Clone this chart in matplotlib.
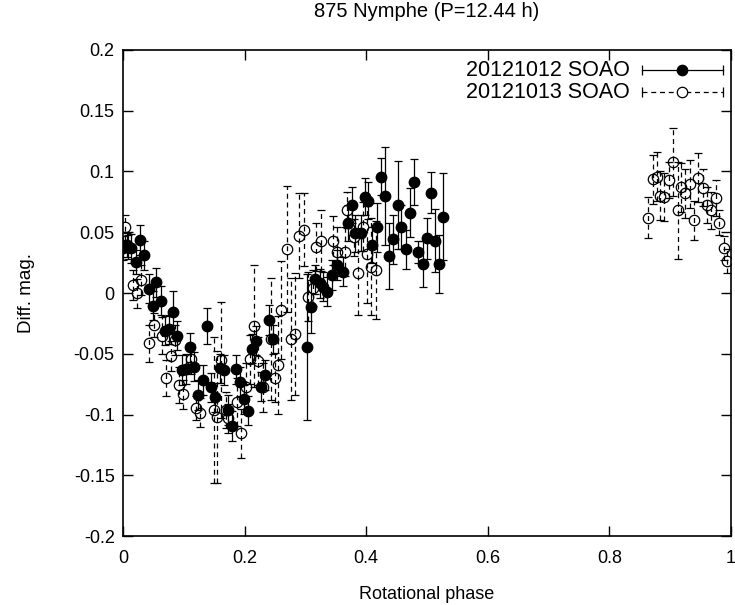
import matplotlib
matplotlib.use('Agg')
import matplotlib.pyplot as plt

plt.rcParams['font.family'] = ['Liberation Sans', 'DejaVu Sans']
plt.rcParams['axes.unicode_minus'] = False

# 20121012 SOAO (filled)
phase1 = [0.000, 0.006, 0.008, 0.014, 0.021, 0.028, 0.035, 0.042, 0.049, 0.055,
          0.0625, 0.069, 0.076, 0.083, 0.089, 0.0965, 0.104, 0.110, 0.117, 0.124,
          0.131, 0.139, 0.145, 0.151, 0.1595, 0.1666, 0.172, 0.179, 0.186, 0.192,
          0.1995, 0.206, 0.213, 0.219, 0.227, 0.2335, 0.240, 0.247, 0.302, 0.309,
          0.316, 0.324, 0.329, 0.335, 0.343, 0.3515, 0.362, 0.3705, 0.376, 0.3816,
          0.391, 0.398, 0.403, 0.409, 0.417, 0.424, 0.431, 0.438, 0.4446, 0.452,
          0.458, 0.4655, 0.472, 0.479, 0.4857, 0.493, 0.4995, 0.5066, 0.513, 0.520,
          0.527]
mag1 = [0.0368, 0.0395, 0.038, 0.0368, 0.0255, 0.0436, 0.031, 0.0035, -0.0103, 0.0088,
        -0.0063, -0.031, -0.030, -0.016, -0.035, -0.0634, -0.0626, -0.0447, -0.0607, -0.084,
        -0.0716, -0.027, -0.0776, -0.0858, -0.062, -0.0634, -0.0963, -0.1095, -0.0628, -0.073,
        -0.0875, -0.0969, -0.046, -0.0393, -0.077, -0.0675, -0.0222, -0.038, -0.0442, -0.0113,
        0.0113, 0.008, 0.0052, 0.001, 0.0148, 0.023, 0.0175, 0.0574, 0.0724, 0.049,
        0.0496, 0.0793, 0.076, 0.0395, 0.054, 0.0957, 0.0798, 0.0307, 0.0442, 0.0724,
        0.0546, 0.036, 0.066, 0.0916, 0.034, 0.0239, 0.045, 0.0826, 0.043, 0.0236,
        0.0628]
err1 = [0.010, 0.010, 0.010, 0.012, 0.010, 0.012, 0.012, 0.012, 0.012, 0.012,
        0.012, 0.012, 0.012, 0.018, 0.012, 0.012, 0.012, 0.012, 0.012, 0.012,
        0.012, 0.015, 0.012, 0.012, 0.012, 0.012, 0.012, 0.012, 0.012, 0.012,
        0.012, 0.012, 0.012, 0.012, 0.012, 0.012, 0.012, 0.012, 0.060, 0.022,
        0.012, 0.012, 0.012, 0.012, 0.012, 0.012, 0.012, 0.015, 0.015, 0.015,
        0.015, 0.015, 0.015, 0.015, 0.020, 0.015, 0.040, 0.027, 0.020, 0.036,
        0.018, 0.016, 0.020, 0.019, 0.009, 0.019, 0.017, 0.017, 0.026, 0.024,
        0.036]

# 20121013 SOAO (open)
phase2 = [0.003, 0.017, 0.0225, 0.030, 0.043, 0.0515, 0.0637, 0.070, 0.079, 0.0855,
          0.0926, 0.099, 0.112, 0.120, 0.1266, 0.150, 0.154, 0.161, 0.169, 0.173,
          0.188, 0.194, 0.202, 0.209, 0.216, 0.2225, 0.231, 0.2434, 0.250, 0.2554,
          0.260, 0.269, 0.276, 0.283, 0.290, 0.2977, 0.304, 0.312, 0.3174, 0.3257,
          0.345, 0.3515, 0.365, 0.368, 0.380, 0.387, 0.395, 0.402, 0.4074, 0.416,
          0.864, 0.871, 0.879, 0.884, 0.890, 0.8985, 0.905, 0.912, 0.918, 0.925,
          0.9326, 0.9396, 0.946, 0.9535, 0.961, 0.967, 0.975, 0.981, 0.9885, 0.994]
mag2 = [0.054, 0.0066, -0.0002, 0.0107, -0.0414, -0.0263, -0.035, -0.070, -0.0518, -0.0387,
        -0.0757, -0.0834, -0.0543, -0.0944, -0.0985, -0.096, -0.102, -0.055, -0.0963, -0.103,
        -0.0897, -0.1155, -0.0776, -0.0546, -0.027, -0.056, -0.0776, -0.038, -0.0697, -0.0593,
        -0.014, 0.0362, -0.038, -0.0337, 0.047, 0.052, -0.003, 0.004, 0.038, 0.043,
        0.043, 0.034, 0.034, 0.0683, 0.0458, 0.0167, 0.0546, 0.032, 0.0216, 0.019,
        0.062, 0.0936, 0.0957, 0.080, 0.079, 0.093, 0.1076, 0.068, 0.087, 0.082,
        0.0897, 0.060, 0.095, 0.0867, 0.0724, 0.068, 0.078, 0.058, 0.0368, 0.0263]
err2 = [0.010, 0.012, 0.012, 0.012, 0.015, 0.010, 0.015, 0.015, 0.012, 0.012,
        0.015, 0.012, 0.012, 0.010, 0.012, 0.060, 0.054, 0.048, 0.015, 0.012,
        0.020, 0.020, 0.020, 0.020, 0.050, 0.020, 0.020, 0.050, 0.020, 0.040,
        0.040, 0.052, 0.050, 0.050, 0.035, 0.030, 0.020, 0.015, 0.020, 0.025,
        0.020, 0.020, 0.020, 0.015, 0.015, 0.035, 0.020, 0.040, 0.040, 0.040,
        0.017, 0.020, 0.020, 0.020, 0.020, 0.015, 0.028, 0.040, 0.020, 0.020,
        0.020, 0.016, 0.020, 0.015, 0.015, 0.015, 0.015, 0.010, 0.010, 0.010]

labels = ['20121012 SOAO', '20121013 SOAO']

fig = plt.figure(figsize=(7.35, 6.05), dpi=100)
ax = fig.add_axes([0.1673, 0.114, 0.8273, 0.8034])

ms = 7.5
eb1 = ax.errorbar(phase1, mag1, yerr=err1, fmt='o', color='black', ms=ms,
                  mfc='black', mec='black', elinewidth=0.9, capsize=3.2,
                  capthick=0.9, zorder=3)
eb2 = ax.errorbar(phase2, mag2, yerr=err2, fmt='o', color='black', ms=ms,
                  mfc='none', mec='black', mew=0.9, elinewidth=0.9, capsize=3.2,
                  capthick=0.9, zorder=2)
eb2[2][0].set_linestyle((0, (4, 3)))

ax.set_xlim(0, 1)
ax.set_ylim(-0.2, 0.2)
ax.set_xticks([0, 0.2, 0.4, 0.6, 0.8, 1])
ax.set_yticks([-0.2, -0.15, -0.1, -0.05, 0, 0.05, 0.1, 0.15, 0.2])
ax.set_xticklabels(['0', '0.2', '0.4', '0.6', '0.8', '1'])
ax.set_yticklabels(['-0.2', '-0.15', '-0.1', '-0.05', '0', '0.05', '0.1', '0.15', '0.2'])
ax.tick_params(direction='in', length=7, width=1, top=True, right=True,
               labelsize=13)
ax.tick_params(axis='x', pad=10)
ax.tick_params(axis='y', pad=6)
for s in ax.spines.values():
    s.set_linewidth(1.2)

ax.set_xlabel('Rotational phase', fontsize=13, labelpad=14)
ax.set_ylabel('Diff. mag.', fontsize=13.5, labelpad=28)
ax.set_title('875 Nymphe (P=12.44 h)', fontsize=14.5, pad=24)

# gnuplot-style key, top right
ky = [0.958, 0.913]
for i, lab in enumerate(labels):
    ax.text(0.833, ky[i], lab, transform=ax.transAxes, ha='right', va='center',
            fontsize=15.5)
    ls = '-' if i == 0 else (0, (4, 3))
    ax.plot([0.853, 0.986], [ky[i], ky[i]], transform=ax.transAxes,
            color='black', lw=0.9, ls=ls, clip_on=False)
    ax.plot([0.853, 0.986], [ky[i], ky[i]], transform=ax.transAxes,
            color='black', lw=0, marker='|', ms=7, mew=0.9, clip_on=False)
    ax.plot([0.92], [ky[i]], transform=ax.transAxes, marker='o', ms=ms,
            color='black', mfc='black' if i == 0 else 'white', mew=0.9,
            clip_on=False)

plt.savefig('out.png', dpi=100)
plt.close()
